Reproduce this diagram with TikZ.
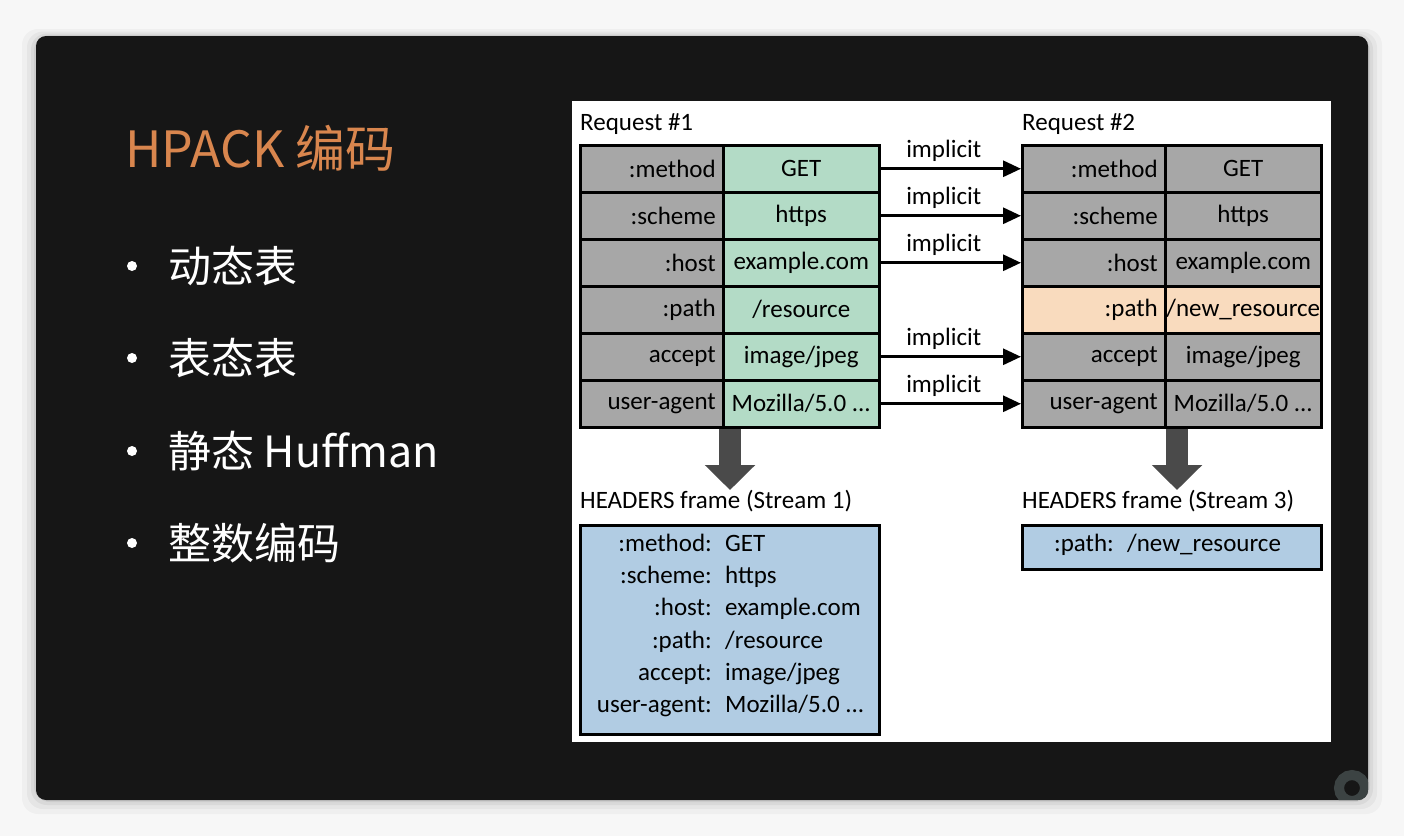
\documentclass[tikz,border=0pt]{standalone}
\usepackage{fontspec}
\setmainfont{Carlito}
\newfontfamily\cjkfont{Noto Sans CJK SC}
\usetikzlibrary{arrows.meta,positioning,calc}
\definecolor{pagebg}{HTML}{F7F7F7}
\definecolor{slidebg}{HTML}{161616}
\definecolor{titleorange}{HTML}{D9864E}
\definecolor{cellgray}{HTML}{A7A7A7}
\definecolor{cellgreen}{HTML}{B3DBC6}
\definecolor{cellorange}{HTML}{F9DBBE}
\definecolor{cellblue}{HTML}{B1CCE3}
\definecolor{arrowgray}{HTML}{4A4A4A}
\definecolor{icongray}{HTML}{3C4343}
\begin{document}
\begin{tikzpicture}
[x=1pt,y=-1pt,
  keyCell/.style={draw=black,line width=2.5pt,fill=cellgray,anchor=north west,
    minimum width=143pt,minimum height=47pt,inner sep=0pt,text width=128pt,
    align=right,font=\fontsize{25}{25}\selectfont},%
  valCell/.style={draw=black,line width=2.5pt,fill=cellgray,anchor=north west,
    minimum width=156pt,minimum height=47pt,inner sep=0pt,
    font=\fontsize{25}{25}\selectfont},%
  implicitArrow/.style={line width=3pt,-{Triangle[length=18pt,width=16pt]}},%
  implicitLabel/.style={above=5pt,xshift=-7pt,inner sep=1pt,font=\fontsize{25}{25}\selectfont},%
  downArrow/.style={arrowgray,line width=22pt,-{Triangle[length=25pt,width=49pt]}},%
  captionText/.style={anchor=base west,inner sep=0pt,font=\fontsize{25}{25}\selectfont},%
  frameBox/.style={draw=black,line width=2.5pt,fill=cellblue,anchor=north west},%
  frameText/.style={inner sep=0pt,font=\fontsize{25}{25}\selectfont},%
  bulletDot/.style={circle,fill=white,inner sep=0pt,minimum size=10pt},%
  bulletText/.style={anchor=west,inner sep=0pt,text=white,font=\cjkfont\fontsize{43}{43}\selectfont}]
\useasboundingbox (0,0) rectangle (1404,836);
%% page and slide
\fill[pagebg] (0,0) rectangle (1404,836);
\foreach \s/\o in {14/0.03, 9/0.04, 5/0.05, 2/0.06}
  \fill[black,opacity=\o,rounded corners=16pt] (36-\s,36-\s/2) rectangle (1368+\s,800+\s);
\fill[slidebg,rounded corners=10pt] (36,36) rectangle (1368,800);
\begin{scope}
  \clip[rounded corners=10pt] (36,36) rectangle (1368,800);
  \draw[icongray,line width=10pt] (1352,788) circle (13);
\end{scope}
%% title and bullets
\node[anchor=base west,inner sep=0pt,text=titleorange,
  font=\cjkfont\fontsize{50}{50}\selectfont] (title) at (125,167) {HPACK 编码};
\foreach \i/\y/\item in {1/266/动态表, 2/358/表态表, 3/451/静态 Huffman, 4/543/整数编码}
{
  \node[bulletDot] (dot\i) at (132,\y) {};
  \node[bulletText] (item\i) at (168,\y) {\item};
}
%% diagram panel
\fill[white] (572,101) rectangle (1331,742);
\node[captionText] (req1) at (580,130) {Request \#1};
\node[captionText] (req2) at (1022,130) {Request \#2};
%% header tables
\foreach \i/\hkey/\hvalA/\hvalB in {1/{:method}/{GET}/{GET},
  2/{:scheme}/{https}/{https}, 3/{:host}/{example.com}/{example.com},
  4/{:path}/{/resource}/{/new\_resource}, 5/{accept}/{image/jpeg}/{image/jpeg},
  6/{user-agent}/{Mozilla/5.0 ...}/{Mozilla/5.0 ...}}
{
  \ifnum\i=4 \def\rowfill{cellorange}\else\def\rowfill{cellgray}\fi
  \node[keyCell] (a\i) at (579,{144+47*(\i-1)}) {\hkey};
  \node[valCell,fill=cellgreen] (av\i) at (722,{144+47*(\i-1)}) {\hvalA};
  \node[keyCell,fill=\rowfill] (b\i) at (1021,{144+47*(\i-1)}) {\hkey};
  \node[valCell,fill=\rowfill] (bv\i) at (1164,{144+47*(\i-1)}) {\hvalB};
}
%% implicit references
\foreach \i in {1,2,3,5,6}
  \draw[implicitArrow] (av\i.east) -- node[implicitLabel] {implicit} (b\i.west);
%% encoded frames
\coordinate (tip1) at (730,490);
\coordinate (tip2) at (1177,490);
\draw[downArrow] (a6.south east -| tip1) -- (tip1);
\draw[downArrow] (b6.south east -| tip2) -- (tip2);
\node[captionText] (hdr1) at (580,508) {HEADERS frame (Stream 1)};
\node[captionText] (hdr3) at (1022,508) {HEADERS frame (Stream 3)};
\node[frameBox,minimum width=299pt,minimum height=209pt] (frame1) at (579,524) {};
\node[frameBox,minimum width=299pt,minimum height=44pt] (frame3) at (1021,524) {};
\foreach \i/\fkey/\fval in {1/{:method:}/{GET}, 2/{:scheme:}/{https},
  3/{:host:}/{example.com}, 4/{:path:}/{/resource}, 5/{accept:}/{image/jpeg},
  6/{user-agent:}/{Mozilla/5.0 ...}}
{
  \node[frameText,anchor=mid east] (fk\i) at (712,{549+32.2*(\i-1)}) {\fkey};
  \node[frameText,anchor=mid west] (fv\i) at (725,{549+32.2*(\i-1)}) {\fval};
}
\node[frameText,anchor=mid east] (gk1) at (1114,549) {:path:};
\node[frameText,anchor=mid west] (gv1) at (1127,549) {/new\_resource};
\end{tikzpicture}
\end{document}
